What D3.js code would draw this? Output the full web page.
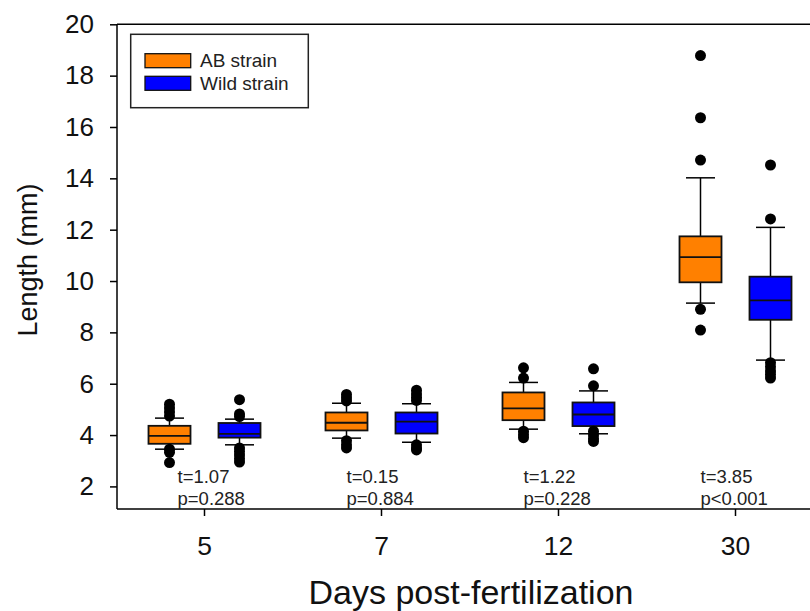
<!DOCTYPE html>
<html><head><meta charset="utf-8">
<script src="https://cdn.jsdelivr.net/npm/d3@7"></script>
<style>body{margin:0;background:#fff}svg{display:block;font-family:"Liberation Sans",Arial,sans-serif}</style>
</head><body><svg id="c" width="810" height="611"></svg>
<script>
const categories = ["5", "7", "12", "30"];
const seriesNames = ["AB strain", "Wild strain"];
const seriesColors = ["#FF8000", "#0000FF"];
const yTicks = [2, 4, 6, 8, 10, 12, 14, 16, 18, 20];
// box statistics per category: [whiskerLow, q1, median, q3, whiskerHigh]
const abStats = [
  [3.45, 3.66, 3.97, 4.36, 4.66],
  [3.88, 4.18, 4.48, 4.88, 5.24],
  [4.23, 4.58, 5.04, 5.66, 6.05],
  [9.14, 9.95, 10.93, 11.74, 14.02]
];
const wildStats = [
  [3.62, 3.90, 4.05, 4.47, 4.62],
  [3.72, 4.06, 4.52, 4.88, 5.22],
  [4.05, 4.35, 4.80, 5.27, 5.72],
  [6.92, 8.49, 9.25, 10.17, 12.09]
];
const abOutliers = [
  [5.2, 5.05, 4.9, 4.74, 3.45, 3.33, 2.93],
  [5.58, 5.45, 5.33, 3.78, 3.62, 3.5],
  [6.62, 6.22, 4.15, 4.02, 3.9],
  [18.78, 16.36, 14.71, 8.9, 8.09]
];
const wildOutliers = [
  [5.38, 4.82, 4.72, 3.5, 3.36, 3.22, 3.08, 2.95],
  [5.75, 5.6, 5.47, 5.35, 3.62, 3.5, 3.42],
  [6.58, 5.92, 4.15, 4.0, 3.86, 3.75],
  [14.52, 12.42, 6.82, 6.66, 6.5, 6.36, 6.22]
];
const tLabels = ["t=1.07", "t=0.15", "t=1.22", "t=3.85"];
const pLabels = ["p=0.288", "p=0.884", "p=0.228", "p<0.001"];
const xTitle = "Days post-fertilization";
const yTitle = "Length (mm)";

const svg = d3.select("#c");
const axisX0 = 117, axisY0 = 509, topY = 24.3;
const x = d3.scaleBand().domain(categories).range([116, 824]).padding(0);
const y = d3.scaleLinear().domain([1.12, 20]).range([axisY0, topY]);
const offsets = [-35, 35];
const boxW = 42, capW = 29;
const ink = "#000";

// frame: top line
svg.append("line").attr("x1", axisX0).attr("x2", 810).attr("y1", topY).attr("y2", topY)
  .attr("stroke", ink).attr("stroke-width", 1.5);

// y axis
const yAxis = svg.append("g").attr("transform", `translate(${axisX0},0)`)
  .call(d3.axisLeft(y).tickValues(yTicks).tickSize(7).tickPadding(16).tickSizeOuter(0));
yAxis.select(".domain").attr("d", `M0,${topY}V${axisY0}`).attr("stroke-width", 1.5);
yAxis.selectAll(".tick line").attr("stroke-width", 1.5);
yAxis.selectAll("text").attr("font-size", 26).attr("fill", "#111").attr("font-family", "Liberation Sans, Arial");

// x axis
const xAxis = svg.append("g").attr("transform", `translate(0,${axisY0})`)
  .call(d3.axisBottom(x).tickSize(7).tickPadding(20).tickSizeOuter(0));
xAxis.select(".domain").attr("d", `M${axisX0},0H810`).attr("stroke-width", 1.5);
xAxis.selectAll(".tick line").attr("stroke-width", 1.5);
xAxis.selectAll("text").attr("font-size", 26.5).attr("fill", "#111").attr("font-family", "Liberation Sans, Arial");

// titles
svg.append("text").attr("x", 471).attr("y", 604).attr("text-anchor", "middle")
  .attr("font-size", 34).attr("fill", "#111").text(xTitle);
svg.append("text").attr("transform", "translate(37,260) rotate(-90)").attr("text-anchor", "middle")
  .attr("font-size", 27).attr("fill", "#111").text(yTitle);

// boxes
const allStats = [abStats, wildStats];
const allOut = [abOutliers, wildOutliers];
seriesNames.forEach((s, si) => {
  const g = svg.append("g");
  categories.forEach((c, ci) => {
    const cx = x(c) + x.bandwidth() / 2 + offsets[si];
    const [lo, q1, med, q3, hi] = allStats[si][ci];
    // whiskers
    g.append("line").attr("x1", cx).attr("x2", cx).attr("y1", y(hi)).attr("y2", y(q3)).attr("stroke", ink).attr("stroke-width", 1.5);
    g.append("line").attr("x1", cx).attr("x2", cx).attr("y1", y(q1)).attr("y2", y(lo)).attr("stroke", ink).attr("stroke-width", 1.5);
    g.append("line").attr("x1", cx - capW / 2).attr("x2", cx + capW / 2).attr("y1", y(hi)).attr("y2", y(hi)).attr("stroke", ink).attr("stroke-width", 1.5);
    g.append("line").attr("x1", cx - capW / 2).attr("x2", cx + capW / 2).attr("y1", y(lo)).attr("y2", y(lo)).attr("stroke", ink).attr("stroke-width", 1.5);
    g.append("rect").attr("x", cx - boxW / 2).attr("y", y(q3)).attr("width", boxW).attr("height", y(q1) - y(q3))
      .attr("fill", seriesColors[si]).attr("stroke", "#111").attr("stroke-width", 1.8);
    g.append("line").attr("x1", cx - boxW / 2).attr("x2", cx + boxW / 2).attr("y1", y(med)).attr("y2", y(med)).attr("stroke", "#111").attr("stroke-width", 1.8);
    g.selectAll(null).data(allOut[si][ci]).enter().append("circle")
      .attr("cx", cx).attr("cy", d => y(d)).attr("r", 5.5).attr("fill", "#000");
  });
});

// annotations
const nudge = [8, 0, 0, 0];
categories.forEach((c, ci) => {
  const lx = x(c) + x.bandwidth() / 2 - 35 + nudge[ci];
  svg.append("text").attr("x", lx).attr("y", axisY0 - 26).attr("font-size", 18.5).attr("fill", "#222").text(tLabels[ci]);
  svg.append("text").attr("x", lx).attr("y", axisY0 - 4).attr("font-size", 18.5).attr("fill", "#222").text(pLabels[ci]);
});

// legend
const lg = svg.append("g");
lg.append("rect").attr("x", 130.7).attr("y", 34.3).attr("width", 177.6).attr("height", 73.4)
  .attr("fill", "#fff").attr("stroke", "#222").attr("stroke-width", 1.5);
seriesNames.forEach((s, si) => {
  const yy = 53.7 + si * 22.6;
  lg.append("rect").attr("x", 145).attr("y", yy).attr("width", 45.7).attr("height", 14)
    .attr("fill", seriesColors[si]).attr("stroke", "#111").attr("stroke-width", 1.3);
  lg.append("text").attr("x", 200).attr("y", yy + 13.3).attr("font-size", 19).attr("fill", "#222").text(s);
});
</script></body></html>
